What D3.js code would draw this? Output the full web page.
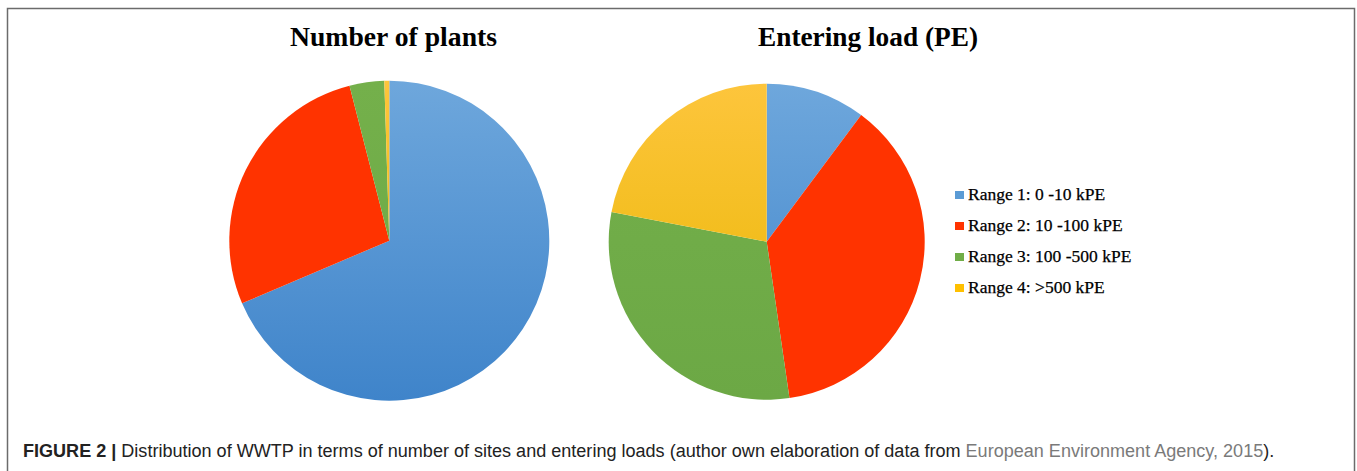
<!DOCTYPE html>
<html><head><meta charset="utf-8">
<script src="https://cdn.jsdelivr.net/npm/d3@7"></script>
<style>body{margin:0;background:#fff}svg{display:block}</style>
</head><body>
<svg id="c" width="1357" height="471"></svg>
<script>
const categories = ["Range 1: 0 -10 kPE","Range 2: 10 -100 kPE","Range 3: 100 -500 kPE","Range 4: >500 kPE"];
const plantsValues = [68.6, 27.4, 3.5, 0.5];
const loadValues = [10.2, 37.5, 30.3, 22.0];
const titles = ["Number of plants", "Entering load (PE)"];
const captionBold = "FIGURE 2 | ";
const captionText = "Distribution of WWTP in terms of number of sites and entering loads (author own elaboration of data from ";
const captionLink = "European Environment Agency, 2015";
const captionEnd = ").";

const colorTop = ["#6ea7dc","#ff3300","#74b04b","#fdc53c"];
const colorBot = ["#3f84ca","#ff3300","#6ca845","#e8b600"];
const legendColors = ["#5b9bd5","#ff3300","#70ad47","#ffc000"];

const svg = d3.select("#c");
svg.append("rect").attr("x",7.5).attr("y",8.5).attr("width",1347).attr("height",480)
  .attr("fill","none").attr("stroke","#6b6b6b").attr("stroke-width",1.5);

const defs = svg.append("defs");
const pies = [
  {values: plantsValues, cx: 389.3, cy: 240.7, r: 160, title: titles[0], tx: 393.5, tw: 207},
  {values: loadValues, cx: 766.7, cy: 241.7, r: 158, title: titles[1], tx: 868, tw: 220}
];
const pie = d3.pie().sort(null).value(d => d);
pies.forEach((p, pi) => {
  categories.forEach((c, i) => {
    const g = defs.append("linearGradient").attr("id", `g${pi}_${i}`)
      .attr("gradientUnits","userSpaceOnUse")
      .attr("x1",0).attr("x2",0).attr("y1",-p.r).attr("y2",p.r);
    g.append("stop").attr("offset","0").attr("stop-color",colorTop[i]);
    g.append("stop").attr("offset","1").attr("stop-color",colorBot[i]);
  });
  const arc = d3.arc().innerRadius(0).outerRadius(p.r);
  const g = svg.append("g").attr("transform",`translate(${p.cx},${p.cy})`);
  g.selectAll("path").data(pie(p.values)).join("path")
    .attr("d", arc)
    .attr("fill", (d,i) => `url(#g${pi}_${i})`);
  svg.append("text").attr("x", p.tx).attr("y", 46)
    .attr("text-anchor","middle")
    .attr("font-family","'Liberation Serif','Times New Roman',serif")
    .attr("font-weight","bold").attr("font-size",28)
    .attr("textLength", p.tw).attr("lengthAdjust","spacingAndGlyphs")
    .attr("fill","#000").text(p.title);
});

// legend
const leg = svg.append("g");
const ly = d3.scalePoint().domain(categories).range([200, 293]);
categories.forEach((c, i) => {
  leg.append("rect").attr("x",955).attr("y",ly(c)-9).attr("width",9).attr("height",8)
    .attr("fill",legendColors[i]);
  leg.append("text").attr("x",968).attr("y",ly(c))
    .attr("font-family","'Liberation Serif','Times New Roman',serif")
    .attr("font-size",17.5).attr("fill","#000")
    .attr("stroke","#000").attr("stroke-width",0.25).text(c);
});

// caption
const cap = svg.append("text").attr("x",23).attr("y",456.5)
  .attr("font-family","'Liberation Sans',Arial,Helvetica,sans-serif")
  .attr("font-size",16).attr("fill","#222");
cap.append("tspan").attr("font-weight","bold").text(captionBold);
cap.append("tspan").text(captionText);
cap.append("tspan").attr("fill","#7a7a7a").text(captionLink);
cap.append("tspan").text(captionEnd);
const w = cap.node().getComputedTextLength();
const target = 1252;
cap.attr("font-size", 16 * target / w);
</script>
</body></html>
